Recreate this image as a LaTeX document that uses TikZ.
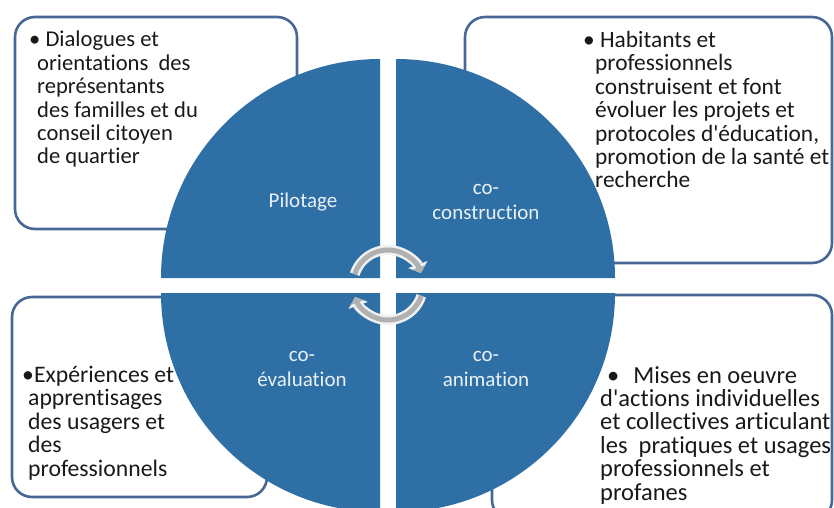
\documentclass[tikz,border=0pt]{standalone}
\usepackage{fontspec}
\setmainfont{Carlito}[Ligatures=NoCommon]
\usetikzlibrary{arrows.meta}
\definecolor{quadblue}{RGB}{46,111,166}
\definecolor{boxline}{RGB}{72,104,148}
\definecolor{ringgray}{RGB}{176,176,176}

\begin{document}
\begin{tikzpicture}[x=1pt, y=1pt,
  quad/.style={fill=quadblue},
  box/.style={draw=boxline, line width=2.6pt, rounded corners=20pt},
  txt/.style={anchor=north west, inner sep=0pt, align=left, text=black!90,
    font=\fontsize{#1}{23.4}\selectfont},
  lbl/.style={align=center, inner sep=0pt, text=white!90!quadblue,
    font=\fontsize{21}{25}\selectfont},
  ring/.style={line width=10pt, white!88!gray, -{Triangle[width=20pt,length=9pt]}},
  ringin/.style={line width=5pt, ringgray, -{Triangle[width=13pt,length=6pt]}}]
\clip (0,0) rectangle (834,507);
\draw[box] (15,490) rectangle (297,278);
\draw[box] (465,490) rectangle (832,244);
\draw[box] (12,210) rectangle (267,10);
\draw[box] (492,212) rectangle (832,-13);
\begin{scope}
\fill[quad] (380,229) -- ++(-219pt,0) arc (180:90:219pt) -- cycle;
\fill[quad] (396,229) -- ++(0,219pt) arc (90:0:219pt) -- cycle;
\fill[quad] (380,214) -- ++(0,-219pt) arc (270:180:219pt) -- cycle;
\fill[quad] (396,214) -- ++(219pt,0) arc (0:-90:219pt) -- cycle;
\end{scope}
\coordinate (hub) at (388,222);
\draw[ring] (hub) ++(162:35pt) arc (162:20:35pt);
\draw[ringin] (hub) ++(162:35pt) arc (162:20:35pt);
\draw[ring] (hub) ++(-18:35pt) arc (-18:-160:35pt);
\draw[ringin] (hub) ++(-18:35pt) arc (-18:-160:35pt);
\node[lbl] (pilot) at (303,305) {Pilotage};
\node[lbl] (constr) at (486,305.5) {co-\\construction};
\node[lbl] (evalu) at (302,138.5) {co-\\évaluation};
\node[lbl] (anim) at (486,138.5) {co-\\animation};
\node[txt=22.6] (famil) at (37,476) {\hspace*{-8pt}\textbullet\ Dialogues et\\orientations\ \ des\\représentants\\des familles et du\\conseil citoyen\\de quartier};
\node[txt=23.4] (habit) at (595,476) {\hspace*{-12pt}\textbullet\ Habitants et\\professionnels\\construisent et font\\évoluer les projets et\\protocoles d\textquotesingle éducation,\\promotion de la santé et\\recherche};
\node[txt=23.7] (exper) at (28,141) {\hspace*{-6pt}\textbullet Expériences et\\apprentisages\\des usagers et\\des\\professionnels};
\node[txt=24.5] (mises) at (600,141) {\hspace*{7pt}\textbullet\hspace{14pt}Mises en oeuvre\\d\textquotesingle actions individuelles\\et collectives articulant\\les\ \ pratiques et usages\\professionnels et\\profanes};
\end{tikzpicture}
\end{document}
